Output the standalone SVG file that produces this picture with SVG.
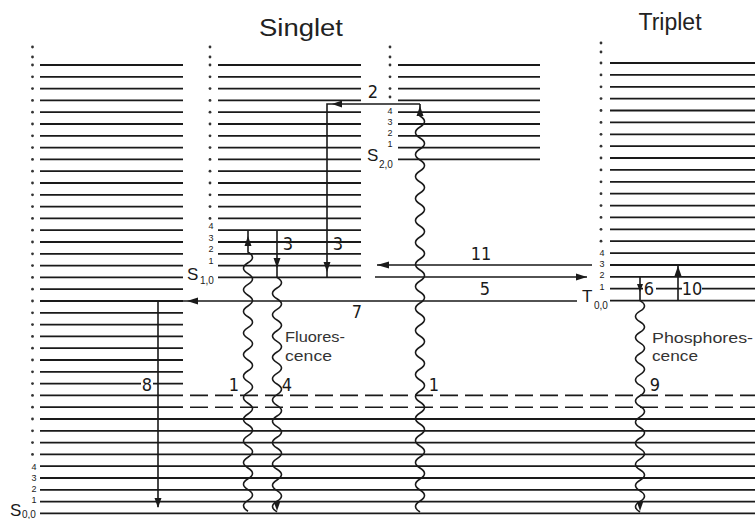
<svg xmlns="http://www.w3.org/2000/svg" width="755" height="519" viewBox="0 0 755 519">
<style>
.lv{fill:none;stroke:#1a1a1a;stroke-width:1.8}
.dl{fill:none;stroke:#1a1a1a;stroke-width:1.6;stroke-dasharray:18 7}
.cn{fill:none;stroke:#1a1a1a;stroke-width:1.6}
.ah{fill:#1a1a1a}
.dot{fill:#333}
.num{font-family:"Liberation Sans Narrow","DejaVu Sans Condensed","Liberation Sans",sans-serif;font-size:18px;fill:#1a1a1a;text-anchor:middle}
.sm{font-family:"Liberation Sans Narrow","Liberation Sans",sans-serif;font-size:9px;fill:#1a1a1a;text-anchor:middle}
.st{font-family:"Liberation Sans Narrow","Liberation Sans",sans-serif;font-size:17px;fill:#1a1a1a}
.sub{font-family:"Liberation Sans Narrow","Liberation Sans",sans-serif;font-size:10px;fill:#1a1a1a}
.ttl{font-family:"Liberation Sans",sans-serif;font-size:23px;fill:#222;text-anchor:middle}
.lbl{font-family:"Liberation Sans",sans-serif;font-size:15px;fill:#333}
</style>
<rect width="755" height="519" fill="#fff"/>
<text class="ttl" x="301" y="36" textLength="84" lengthAdjust="spacingAndGlyphs">Singlet</text>
<text class="ttl" x="670" y="30">Triplet</text>

<g id="S0">
<path class="lv" d="M40 65H183M40 76.8H183M40 88.6H183M40 100.4H183M40 112.2H183M40 124H183M40 135.8H183M40 147.6H183M40 159.4H183M40 171.2H183M40 183H183M40 194.8H183M40 206.6H183M40 218.4H183M40 230.2H183M40 242H183M40 253.8H183M40 265.6H183M40 277.4H183M40 289.2H183M40 301H183M40 312.8H183M40 324.6H183M40 336.4H183M40 348.2H183M40 360H183M40 371.8H183M40 383.6H141M153 383.6H183M40 395.4H183M40 407.2H183M40 419H755M40 430.8H755M40 442.6H755M40 454.4H755M40 466.2H755M40 478H755M40 489.8H755M40 501.6H755M40 513.4H755"/>
<path class="dl" d="M190 395.4H755M190 407.2H755"/>
<g class="dot">
<circle cx="32.5" cy="47" r="1.4"/><circle cx="32.5" cy="57" r="1.4"/>
<circle cx="32.5" cy="65" r="1.4"/><circle cx="32.5" cy="76.8" r="1.4"/><circle cx="32.5" cy="88.6" r="1.4"/><circle cx="32.5" cy="100.4" r="1.4"/><circle cx="32.5" cy="112.2" r="1.4"/><circle cx="32.5" cy="124" r="1.4"/><circle cx="32.5" cy="135.8" r="1.4"/><circle cx="32.5" cy="147.6" r="1.4"/><circle cx="32.5" cy="159.4" r="1.4"/><circle cx="32.5" cy="171.2" r="1.4"/><circle cx="32.5" cy="183" r="1.4"/><circle cx="32.5" cy="194.8" r="1.4"/><circle cx="32.5" cy="206.6" r="1.4"/><circle cx="32.5" cy="218.4" r="1.4"/><circle cx="32.5" cy="230.2" r="1.4"/><circle cx="32.5" cy="242" r="1.4"/><circle cx="32.5" cy="253.8" r="1.4"/><circle cx="32.5" cy="265.6" r="1.4"/><circle cx="32.5" cy="277.4" r="1.4"/><circle cx="32.5" cy="289.2" r="1.4"/><circle cx="32.5" cy="301" r="1.4"/><circle cx="32.5" cy="312.8" r="1.4"/><circle cx="32.5" cy="324.6" r="1.4"/><circle cx="32.5" cy="336.4" r="1.4"/><circle cx="32.5" cy="348.2" r="1.4"/><circle cx="32.5" cy="360" r="1.4"/><circle cx="32.5" cy="371.8" r="1.4"/><circle cx="32.5" cy="383.6" r="1.4"/><circle cx="32.5" cy="395.4" r="1.4"/><circle cx="32.5" cy="407.2" r="1.4"/><circle cx="32.5" cy="419" r="1.4"/><circle cx="32.5" cy="430.8" r="1.4"/><circle cx="32.5" cy="442.6" r="1.4"/><circle cx="32.5" cy="454.4" r="1.4"/>
</g>
<text class="sm" x="34" y="470">4</text>
<text class="sm" x="34" y="481">3</text>
<text class="sm" x="34" y="492">2</text>
<text class="sm" x="34" y="503">1</text>
<text class="st" x="10" y="516">S</text><text class="sub" x="22" y="518">0,0</text>
</g>

<g id="S1">
<path class="lv" d="M218 65H361M218 76.8H361M218 88.6H361M218 100.4H361M218 112.2H361M218 124H361M218 135.8H361M218 147.6H361M218 159.4H361M218 171.2H361M218 183H361M218 194.8H361M218 206.6H361M218 218.4H361M218 230.2H361M218 242H361M218 253.8H361M218 265.6H361M218 277.4H361"/>
<g class="dot">
<circle cx="210" cy="47" r="1.4"/><circle cx="210" cy="57" r="1.4"/>
<circle cx="210" cy="65" r="1.4"/><circle cx="210" cy="76.8" r="1.4"/><circle cx="210" cy="88.6" r="1.4"/><circle cx="210" cy="100.4" r="1.4"/><circle cx="210" cy="112.2" r="1.4"/><circle cx="210" cy="124" r="1.4"/><circle cx="210" cy="135.8" r="1.4"/><circle cx="210" cy="147.6" r="1.4"/><circle cx="210" cy="159.4" r="1.4"/><circle cx="210" cy="171.2" r="1.4"/><circle cx="210" cy="183" r="1.4"/><circle cx="210" cy="194.8" r="1.4"/><circle cx="210" cy="206.6" r="1.4"/><circle cx="210" cy="218.4" r="1.4"/>
</g>
<text class="sm" x="211" y="229">4</text>
<text class="sm" x="211" y="241">3</text>
<text class="sm" x="211" y="252">2</text>
<text class="sm" x="211" y="264">1</text>
<text class="st" x="187" y="280">S</text><text class="sub" x="200" y="284">1,0</text>
</g>

<g id="S2">
<path class="lv" d="M398 65H540M398 76.8H540M398 88.6H540M398 100.4H540M398 112.2H540M398 124H540M398 135.8H540M398 147.6H540M398 159.4H540"/>
<g class="dot">
<circle cx="390" cy="47" r="1.4"/><circle cx="390" cy="57" r="1.4"/>
<circle cx="390" cy="65" r="1.4"/><circle cx="390" cy="76.8" r="1.4"/><circle cx="390" cy="88.6" r="1.4"/><circle cx="390" cy="97" r="1.4"/>
</g>
<text class="sm" x="390" y="114">4</text>
<text class="sm" x="390" y="125">3</text>
<text class="sm" x="390" y="136">2</text>
<text class="sm" x="390" y="147">1</text>
<text class="st" x="367" y="161">S</text><text class="sub" x="379" y="168">2,0</text>
</g>

<g id="T">
<path class="lv" d="M610 63H755M610 74.9H755M610 86.8H755M610 98.6H755M610 110.5H755M610 122.4H755M610 134.3H755M610 146.2H755M610 158H755M610 169.9H755M610 181.8H755M610 193.7H755M610 205.6H755M610 217.4H755M610 229.3H755M610 241.2H755M610 253.1H755M610 265H755M610 276.8H755M610 288.7H643M656 288.7H682M702 288.7H755M610 300.6H755"/>
<g class="dot">
<circle cx="601" cy="43" r="1.4"/><circle cx="601" cy="52" r="1.4"/>
<circle cx="601" cy="63" r="1.4"/><circle cx="601" cy="74.9" r="1.4"/><circle cx="601" cy="86.8" r="1.4"/><circle cx="601" cy="98.6" r="1.4"/><circle cx="601" cy="110.5" r="1.4"/><circle cx="601" cy="122.4" r="1.4"/><circle cx="601" cy="134.3" r="1.4"/><circle cx="601" cy="146.2" r="1.4"/><circle cx="601" cy="158" r="1.4"/><circle cx="601" cy="169.9" r="1.4"/><circle cx="601" cy="181.8" r="1.4"/><circle cx="601" cy="193.7" r="1.4"/><circle cx="601" cy="205.6" r="1.4"/><circle cx="601" cy="217.4" r="1.4"/><circle cx="601" cy="229.3" r="1.4"/><circle cx="601" cy="241.2" r="1.4"/>
</g>
<text class="sm" x="602" y="256">4</text>
<text class="sm" x="602" y="267">3</text>
<text class="sm" x="602" y="278">2</text>
<text class="sm" x="602" y="290">1</text>
<text class="st" x="582" y="302">T</text><text class="sub" x="594" y="309">0,0</text>
</g>

<g id="connectors">
<path class="cn" d="M183 301H577M158 301V507M420 104H327V277.4M277 230.2V277.4M377 265H592M375 277H587M640 276.8V300.6M678 300.6V266"/>
<path class="cn" d="M248 230.2V252q9 5.4 0 10.8q-9 5.4 0 10.8q9 5.4 0 10.8q-9 5.4 0 10.8q9 5.4 0 10.8q-9 5.4 0 10.8q9 5.4 0 10.8q-9 5.4 0 10.8q9 5.4 0 10.8q-9 5.4 0 10.8q9 5.4 0 10.8q-9 5.4 0 10.8q9 5.4 0 10.8q-9 5.4 0 10.8q9 5.4 0 10.8q-9 5.4 0 10.8q9 5.4 0 10.8q-9 5.4 0 10.8q9 5.4 0 10.8q-9 5.4 0 10.8q9 5.4 0 10.8q-9 5.4 0 10.8q9 5.4 0 10.8q-9 5.4 0 10.8"/>
<path class="cn" d="M277 277.4q9 5.33 0 10.66q-9 5.33 0 10.66q9 5.33 0 10.66q-9 5.33 0 10.66q9 5.33 0 10.66q-9 5.33 0 10.66q9 5.33 0 10.66q-9 5.33 0 10.66q9 5.33 0 10.66q-9 5.33 0 10.66q9 5.33 0 10.66q-9 5.33 0 10.66q9 5.33 0 10.66q-9 5.33 0 10.66q9 5.33 0 10.66q-9 5.33 0 10.66q9 5.33 0 10.66q-9 5.33 0 10.66q9 5.33 0 10.66q-9 5.33 0 10.66q9 5.33 0 10.66q-9 5.33 0 10.66"/>
<path class="cn" d="M420 104V116q9 5.5 0 11q-9 5.5 0 11q9 5.5 0 11q-9 5.5 0 11q9 5.5 0 11q-9 5.5 0 11q9 5.5 0 11q-9 5.5 0 11q9 5.5 0 11q-9 5.5 0 11q9 5.5 0 11q-9 5.5 0 11q9 5.5 0 11q-9 5.5 0 11q9 5.5 0 11q-9 5.5 0 11q9 5.5 0 11q-9 5.5 0 11q9 5.5 0 11q-9 5.5 0 11q9 5.5 0 11q-9 5.5 0 11q9 5.5 0 11q-9 5.5 0 11q9 5.5 0 11q-9 5.5 0 11q9 5.5 0 11q-9 5.5 0 11q9 5.5 0 11q-9 5.5 0 11q9 5.5 0 11q-9 5.5 0 11q9 5.5 0 11q-9 5.5 0 11q9 5.5 0 11q-9 5.5 0 11"/>
<path class="cn" d="M640 300.6q9 5.285 0 10.57q-9 5.285 0 10.57q9 5.285 0 10.57q-9 5.285 0 10.57q9 5.285 0 10.57q-9 5.285 0 10.57q9 5.285 0 10.57q-9 5.285 0 10.57q9 5.285 0 10.57q-9 5.285 0 10.57q9 5.285 0 10.57q-9 5.285 0 10.57q9 5.285 0 10.57q-9 5.285 0 10.57q9 5.285 0 10.57q-9 5.285 0 10.57q9 5.285 0 10.57q-9 5.285 0 10.57q9 5.285 0 10.57q-9 5.285 0 10.57"/>
<g class="ah">
<polygon points="248,236 244.5,246 251.5,246"/>
<polygon points="277,268 273.5,258 280.5,258"/>
<polygon points="327,272 323.5,262 330.5,262"/>
<polygon points="332,104 342,100.5 342,107.5"/>
<polygon points="420,106 416.5,116 423.5,116"/>
<polygon points="187,301 198,297.5 198,304.5"/>
<polygon points="158,508 154.5,498 161.5,498"/>
<polygon points="277,511 273.5,501 280.5,501"/>
<polygon points="640,511 636.5,501 643.5,501"/>
<polygon points="377,265 389,261.5 389,268.5"/>
<polygon points="587,277 576,273.5 576,280.5"/>
<polygon points="678,266 674.5,276 681.5,276"/>
<polygon points="640,292 637,284 643,284"/>
</g>
<text class="num" x="373" y="98">2</text>
<text class="num" x="288" y="250">3</text>
<text class="num" x="338" y="250">3</text>
<text class="num" x="481" y="260">11</text>
<text class="num" x="485" y="295">5</text>
<text class="num" x="357" y="318">7</text>
<text class="num" x="649" y="295">6</text>
<text class="num" x="692" y="295">10</text>
<text class="num" x="234" y="391">1</text>
<text class="num" x="287" y="391">4</text>
<text class="num" x="434" y="391">1</text>
<text class="num" x="655" y="391">9</text>
<text class="num" x="147" y="391">8</text>
<text class="lbl" x="285" y="342" textLength="60" lengthAdjust="spacingAndGlyphs">Fluores-</text>
<text class="lbl" x="285" y="361" textLength="47" lengthAdjust="spacingAndGlyphs">cence</text>
<text class="lbl" x="652" y="343" textLength="101" lengthAdjust="spacingAndGlyphs">Phosphores-</text>
<text class="lbl" x="652" y="361" textLength="46" lengthAdjust="spacingAndGlyphs">cence</text>
</g>
</svg>
